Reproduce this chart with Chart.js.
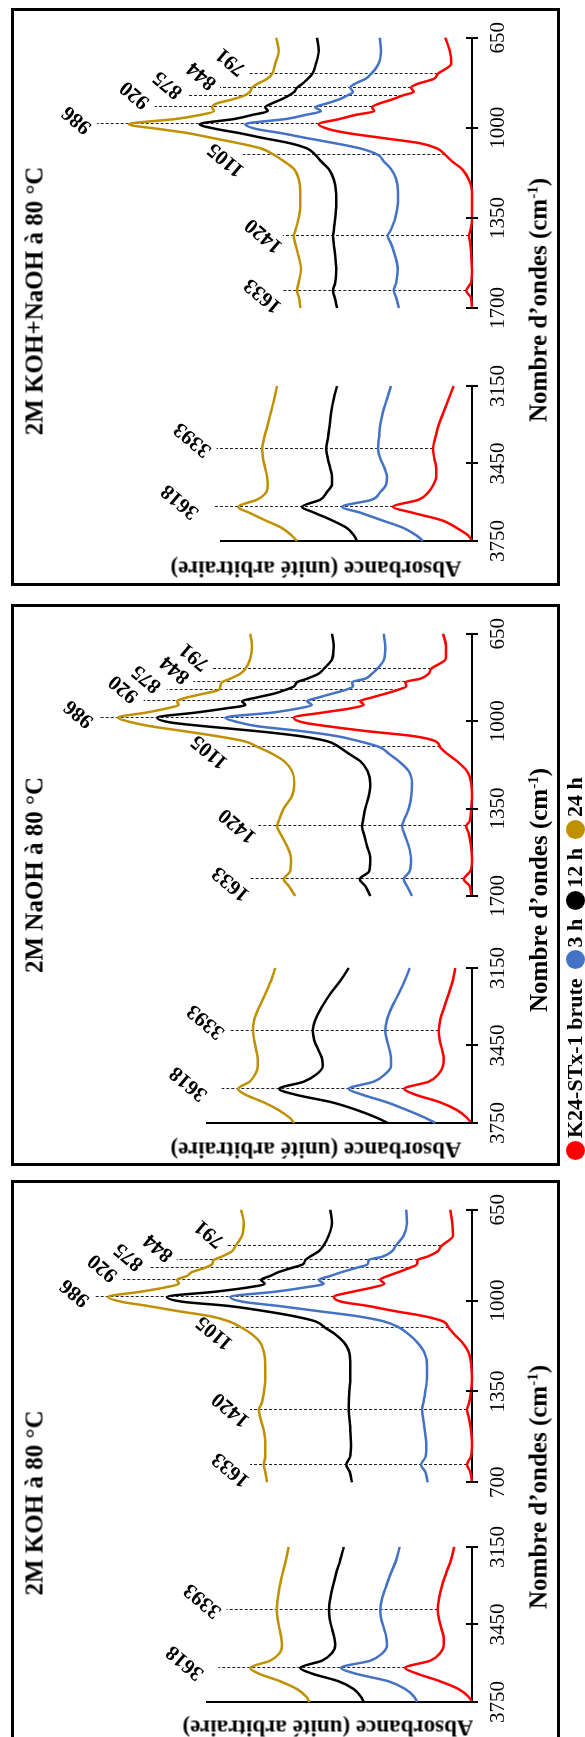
<!DOCTYPE html>
<html><head><meta charset="utf-8">
<script src="https://cdn.jsdelivr.net/npm/chart.js@4.4.1/dist/chart.umd.min.js"></script>
<style>
html,body{margin:0;padding:0;background:#fff;}
body{width:585px;height:1737px;position:relative;overflow:hidden;font-family:'Liberation Serif','Times New Roman',serif;}
.box{position:absolute;border:3px solid #000;box-sizing:border-box;}
.rot{position:absolute;transform-origin:0 0;}
.rot canvas{position:absolute;top:0;}
.txt{position:absolute;white-space:nowrap;line-height:1;font-weight:bold;color:#000;}
.legend{position:absolute;display:flex;align-items:center;white-space:nowrap;font-weight:bold;line-height:1;transform-origin:0 50%;transform:rotate(-90deg);}
.dot{display:inline-block;width:19px;height:19px;border-radius:50%;margin-right:3px;}
</style></head><body>
<script>
// ---------------- DATA ----------------
const seriesNames = ['K24-STx-1 brute', '3 h', '12 h', '24 h'];
const seriesColors = ['#ff0000', '#4472c4', '#000000', '#bf9000'];
const panelTitles = ['2M KOH+NaOH à 80 °C', '2M NaOH à 80 °C', '2M KOH à 80 °C'];

// high wavenumber segment (3750 -> 3150)
const wavenumbersHigh = [3150,3200,3250,3300,3350,3393,3430,3470,3500,3530,3560,3590,3618,3640,3670,3700,3730,3750];
// low wavenumber segment (1700 -> 650)
const wavenumbersLow = [650,700,750,791,810,830,844,860,875,890,905,920,935,950,965,986,1005,1020,1040,1060,1080,1105,1130,1160,1200,1250,1300,1350,1400,1420,1450,1500,1550,1600,1633,1660,1700];

const ticksHigh = [3750, 3450, 3150];
const ticksLow = [1700, 1350, 1000, 650];
const tickLabelsHigh = ['3750', '3450', '3150'];
const tickLabelsLow = ['1700', '1350', '1000', '650'];
const tickLabelsLowKOH = ['700', '1350', '1000', '650'];

const peakWavenumbers = [3618, 3393, 1633, 1420, 1105, 986, 920, 875, 844, 791];
const peakLabels = ['3618', '3393', '1633', '1420', '1105', '986', '920', '875', '844', '791'];

// Panel 1 : 2M KOH+NaOH (absorbance, arbitrary units, curves already offset)
const mixBruteHigh = [18.3,23.3,28.3,33.3,36.7,39,37.7,35.7,35.7,38.3,43.3,53.3,79,60,30,15,3.3,0];
const mix3hHigh    = [81,85,89,91.7,93,94,91.7,87.3,85,85.7,91.7,100,130,112,90,68.3,55,49];
const mix12hHigh   = [135,138.3,140.7,142.3,144,145.7,144.3,141.7,140,140,145,151.7,170,158,140,125,117.7,115];
const mix24hHigh   = [195,197.7,201,204.3,207.7,209.7,209,206.7,205,204.3,205.7,215,234,223,206.7,190,180,175];
const mixBruteLow  = [26.7,22.3,20.7,34.3,38.3,55,61,58.3,70,80,92.3,100,97.7,116.7,131.7,153.3,143.3,125,88.3,51.7,35,26.7,20,10,3.3,0,0,0,1.7,3,1.7,0.7,0,0.7,5.7,1,0];
const mix3hLow     = [92.3,91,93.3,101,106.7,117.7,121.7,119,125,133.3,145,156.7,151,166.7,185,226.7,215,191.7,165,136.7,111.7,94,88.3,81,75.7,74,74.3,76.7,81.7,84.3,81,76.7,74.3,75.7,78.3,75.7,73.3];
const mix12hLow    = [155,153.3,156,159.7,164.3,170,175,177.7,183.3,191,200,206.7,204.3,220,236.7,272.3,255,233.3,208.3,181.7,165,156.7,151,143.3,138.3,136,135.7,136.7,138.3,139,138.3,136.7,135.7,136.7,139,137.3,135];
const mix24hLow    = [195.7,193.3,196.7,200,205,215,220,222,228,240,255,260,258,272,295,343,312,285,259,233,211,198,188,178,173.3,171.7,171.7,173.3,176.7,178.3,176.7,173.3,171,173.3,175,173,171.7];

// Panel 2 : 2M NaOH
const naBruteHigh = [16.7,19.3,23.3,27.7,31.7,33.3,32.3,29.7,28.3,29,33.3,43.3,67.7,56.7,31.7,15,5,0.7];
const na3hHigh    = [62.3,67.3,73.3,80,85,86.7,85,82.3,81,81,86.7,98.3,123.3,110,85,65,46.7,36.7];
const na12hHigh   = [123.3,131.7,141.7,150,156.7,159.3,157.7,153.3,150,149.3,155,168.3,192.7,176.7,140,115,95,84.3];
const na24hHigh   = [196.7,201,206.7,212.7,217.7,219,217.7,215.7,214.3,214.3,216.7,222.3,234,226.7,208.3,193.3,182.3,177.7];
const naBruteLow  = [29,26,26.3,41,43.3,51.7,66.7,65.7,74.3,86.7,100,111.7,108.3,123.3,148.3,178.3,169,145,105,58.3,36.7,31.7,25,15,5,0.7,0,0.7,2.3,5.7,3.3,1,0,1.7,8.3,2.3,0.7];
const na3hLow     = [88.3,86.7,87.7,95,100,106.7,120,119,126.7,140,153.3,165,160,175,198.3,246.7,233,215,170,135,113,91.7,83.3,73.3,63.3,60,60.7,63.3,68.3,70,67.7,63.3,61,62.3,68.3,65,60];
const na12hLow    = [140,138.3,139.7,148.3,153.3,165,175,177.7,186.7,198.3,215,230,226.7,248.3,275,315,301.7,268.3,215,171.7,145,132.3,123.3,111.7,104.3,101.7,103.3,106.7,109,110,108.3,105,101.7,102.7,112.3,106.7,101.7];
const na24hLow    = [221.7,220,221.7,226.7,231.7,241.7,250,251.7,253.3,268.3,285,295,293.3,306.7,325,354,340,321.7,288,255,228,213.3,200,188,180,177.7,180,188.3,193.3,195,191.7,185,181,181.7,188.3,183.3,176.7];

// Panel 3 : 2M KOH
const kBruteHigh = [17.7,21,25.7,30,33,34.3,33,30.3,28.3,28.3,31.7,41.7,66.7,55,31.7,13.3,3.3,0];
const k3hHigh    = [72.3,75.7,81,85.7,90,91.7,90.7,87.7,85.7,85,89.3,101.7,131,116.7,83.3,66.7,57.7,55];
const k12hHigh   = [128.3,131.7,135.7,139,141.7,143,142.3,139.7,137.7,136.7,140,150,171.7,160,133.3,118.3,111,108.3];
const k24hHigh   = [183.3,186,189.3,192.3,194.3,195.3,194.3,192.3,190.7,190,192.3,201.7,221.7,213.3,191.7,175,165.7,162.3];
const kBruteLow  = [21.7,19.7,19,31,34.3,44.3,54.3,55,63.3,73.3,84.3,91.7,87.7,100,118.3,138.3,130,105,78,48,29,23.3,17.7,10,3.3,0.7,0,1,3.3,5,3.3,1,0,1,5,1.7,0];
const k3hLow     = [65.7,65,68.3,76.7,80,89,103.3,104.3,116.7,130,141.7,153.3,148.3,168.3,195,241.7,228.3,195,155,115,88.3,72.3,63.3,55,47.7,45,45,46.7,49,50,49,47.3,45.7,46.3,51,46.7,44.3];
const k12hLow    = [141.7,140,143.3,149,153.3,161.7,166.7,169,181,193.3,201.7,211,207.3,225,255,305,288.3,245,208.3,178.3,156.7,146.7,136.7,128.3,122.7,121.7,121.7,122.7,123.3,123.3,122.7,121.7,121,121.7,125.7,122.3,120];
const k24hLow    = [231,228.3,230,236.7,240,250,258.3,260,268,280,285,295,293,308,330,364,350,325,295,262,243,230,220,212,208,206.7,206.7,208,210.7,213.3,211.7,208.3,206.7,206.7,208.3,206.7,205];

// ---------------- LAYOUT (page pixels) ----------------
const PAGE = {left: 11, right: 560, axisX: 472};
const labelOffsets = [[5,-33],[9,-24],[-5,-19],[0,-19],[-5,-17],[4,-20],[12,-20],[11,-20],[12,-18],[12,-17]];
const layouts = [
  {top: 8, bottom: 586, low: [541, 377], up: [308, 29], yTop: 221, titleY: 301, axisTitleY: 300, abs: [316, 569],
   reach: [258.7,255.3,190,189,229,375,317,284,252,223.7],
   high: [mixBruteHigh, mix3hHigh, mix12hHigh, mix24hHigh], lowS: [mixBruteLow, mix3hLow, mix12hLow, mix24hLow], lowLabels: tickLabelsLow},
  {top: 604, bottom: 1166, low: [1123, 959], up: [896, 617], yTop: 207, titleY: 875, axisTitleY: 890, abs: [316, 1150],
   reach: [250.3,242,222,215.3,245.3,373,328.3,305.3,278.7,260.3],
   high: [naBruteHigh, na3hHigh, na12hHigh, na24hHigh], lowS: [naBruteLow, na3hLow, na12hLow, na24hLow], lowLabels: tickLabelsLow},
  {top: 1180, bottom: 1745, low: [1702, 1538], up: [1483, 1205], yTop: 207, titleY: 1503, axisTitleY: 1487, abs: [328, 1728],
   reach: [253.7,245.3,222,222,240.3,377,349,323,295.3,245.3],
   high: [kBruteHigh, k3hHigh, k12hHigh, k24hHigh], lowS: [kBruteLow, k3hLow, k12hLow, k24hLow], lowLabels: tickLabelsLowKOH}
];

function valueAt(wn, vals, w) {
  for (let i = 0; i < wn.length - 1; i++) {
    if (w >= wn[i] && w <= wn[i + 1]) {
      const t = (w - wn[i]) / (wn[i + 1] - wn[i]);
      return vals[i] + t * (vals[i + 1] - vals[i]);
    }
  }
  return null;
}

const crossTicks = {
  id: 'crossTicks',
  afterDraw(chart) {
    const xs = chart.scales.x, ctx = chart.ctx, b = chart.chartArea.bottom;
    ctx.save(); ctx.strokeStyle = '#000'; ctx.lineWidth = 2;
    xs.ticks.forEach(t => {
      const px = Math.round(xs.getPixelForValue(t.value));
      ctx.beginPath(); ctx.moveTo(px, b - 6); ctx.lineTo(px, b + 6); ctx.stroke();
    });
    ctx.restore();
  }
};

function makePeakPlugin(items) {
  return {
    id: 'peakMarks',
    beforeDatasetsDraw(chart) {
      const xs = chart.scales.x, ys = chart.scales.y, ctx = chart.ctx;
      ctx.save();
      items.forEach(it => {
        const x = Math.round(xs.getPixelForValue(it.wn)) + 0.5;
        const y0 = ys.getPixelForValue(it.base), y1 = ys.getPixelForValue(it.reach);
        ctx.setLineDash([3, 2]); ctx.lineWidth = 1; ctx.strokeStyle = '#222';
        ctx.beginPath(); ctx.moveTo(x, y0); ctx.lineTo(x, y1); ctx.stroke();
        ctx.setLineDash([]);
        ctx.save();
        ctx.translate(x + it.dx, y1 + it.dy);
        ctx.rotate(-50 * Math.PI / 180);
        ctx.font = 'bold 21px "Liberation Serif"';
        ctx.textAlign = 'center'; ctx.textBaseline = 'middle'; ctx.fillStyle = '#000';
        ctx.fillText(it.label, 0, 0);
        ctx.restore();
      });
      ctx.restore();
    }
  };
}

function buildChart(canvas, o) {
  return new Chart(canvas, {
    type: 'line',
    data: {
      datasets: o.series.map((vals, i) => ({
        label: seriesNames[i],
        data: o.wn.map((w, j) => ({x: w, y: vals[j]})),
        borderColor: seriesColors[i],
        borderWidth: 2.5,
        pointRadius: 0,
        fill: false,
        cubicInterpolationMode: 'monotone',
        clip: false
      }))
    },
    options: {
      responsive: false, animation: false, devicePixelRatio: 1,
      layout: {padding: o.pad},
      plugins: {legend: {display: false}, tooltip: {enabled: false}},
      scales: {
        x: {
          type: 'linear', reverse: true,
          min: Math.min(...o.tickVals), max: Math.max(...o.tickVals),
          afterBuildTicks: s => { s.ticks = o.tickVals.map(v => ({value: v})); },
          afterFit: s => { s.height = o.xAxisH; },
          grid: {display: false, drawTicks: false},
          border: {display: true, color: '#000', width: 2},
          ticks: {autoSkip: false, maxRotation: 0, minRotation: 0, padding: 14, color: '#000',
                  font: {family: 'Liberation Serif', size: 21}, callback: (v, i) => o.tickLabels[i]}
        },
        y: {
          type: 'linear', min: 0, max: o.yMax, display: o.showY,
          afterFit: s => { s.width = 0; },
          grid: {display: false, drawTicks: false},
          border: {display: true, color: '#000', width: 2},
          ticks: {display: false}
        }
      }
    },
    plugins: [crossTicks, makePeakPlugin(o.peaks)]
  });
}

function addText(html, cx, cy, size, rot) {
  const d = document.createElement('div');
  d.className = 'txt';
  d.innerHTML = html;
  d.style.fontSize = size + 'px';
  d.style.left = cx + 'px'; d.style.top = cy + 'px';
  d.style.transform = 'translate(-50%,-50%) rotate(' + rot + 'deg)';
  document.body.appendChild(d);
  return d;
}

layouts.forEach((L, k) => {
  const Hp = L.bottom - L.top, Wp = PAGE.right - PAGE.left;
  const box = document.createElement('div');
  box.className = 'box';
  Object.assign(box.style, {left: PAGE.left + 'px', top: L.top + 'px', width: Wp + 'px', height: Hp + 'px'});
  document.body.appendChild(box);

  const rot = document.createElement('div');
  rot.className = 'rot';
  Object.assign(rot.style, {left: PAGE.left + 'px', top: L.top + 'px', width: Hp + 'px', height: Wp + 'px',
    transform: 'translate(0px,' + Hp + 'px) rotate(-90deg)'});
  document.body.appendChild(rot);

  const ux = py => L.bottom - py;
  const chartTop = L.yTop - PAGE.left;
  const chartBottom = PAGE.axisX - PAGE.left;
  const xAxisH = Wp - chartBottom;
  const yMax = PAGE.axisX - L.yTop;

  const peaksFor = (wn, redVals) => {
    const out = [];
    peakWavenumbers.forEach((w, i) => {
      if (w < Math.min(...wn) || w > Math.max(...wn)) return;
      out.push({wn: w, label: peakLabels[i], base: valueAt(wn, redVals, w), reach: L.reach[i],
                dx: labelOffsets[i][0], dy: labelOffsets[i][1]});
    });
    return out;
  };

  const lowW = ux(L.low[1]) + 26;
  const c1 = document.createElement('canvas');
  c1.width = lowW; c1.height = Wp;
  c1.style.left = '0px'; c1.style.width = lowW + 'px'; c1.style.height = Wp + 'px';
  rot.appendChild(c1);
  buildChart(c1, {wn: wavenumbersHigh, series: L.high, tickVals: ticksHigh, tickLabels: tickLabelsHigh,
    yMax, xAxisH, showY: true, pad: {left: ux(L.low[0]), right: 26, top: chartTop, bottom: 0},
    peaks: peaksFor(wavenumbersHigh, L.high[0])});

  const upLeft = lowW;
  const upW = Hp - upLeft;
  const c2 = document.createElement('canvas');
  c2.width = upW; c2.height = Wp;
  c2.style.left = upLeft + 'px'; c2.style.width = upW + 'px'; c2.style.height = Wp + 'px';
  rot.appendChild(c2);
  buildChart(c2, {wn: wavenumbersLow, series: L.lowS, tickVals: ticksLow, tickLabels: L.lowLabels,
    yMax, xAxisH, showY: false, pad: {left: ux(L.up[0]) - upLeft, right: Hp - ux(L.up[1]), top: chartTop, bottom: 0},
    peaks: peaksFor(wavenumbersLow, L.lowS[0])});

  addText(panelTitles[k], 34, L.titleY, 25, -90);
  addText('Nombre d’ondes (cm<sup style="font-size:15px;vertical-align:9px;line-height:0">-1</sup>)', 538, L.axisTitleY, 25, -90);
  addText('Absorbance (unité arbitraire)', L.abs[0], L.abs[1], 23, 180);
});

// legend: starts (red dot) at the bottom and reads upwards
const legendFont = 22;
const leg = document.createElement('div');
leg.className = 'legend';
leg.style.fontSize = legendFont + 'px';
leg.style.height = legendFont + 'px';
leg.style.left = '575px';
leg.style.top = (1160 - legendFont / 2) + 'px';
seriesNames.forEach((n, i) => {
  const dot = document.createElement('span');
  dot.className = 'dot'; dot.style.background = seriesColors[i];
  const t = document.createElement('span');
  t.textContent = n; t.style.marginRight = i < seriesNames.length - 1 ? '9px' : '0';
  leg.appendChild(dot); leg.appendChild(t);
});
document.body.appendChild(leg);
</script>
</body></html>
